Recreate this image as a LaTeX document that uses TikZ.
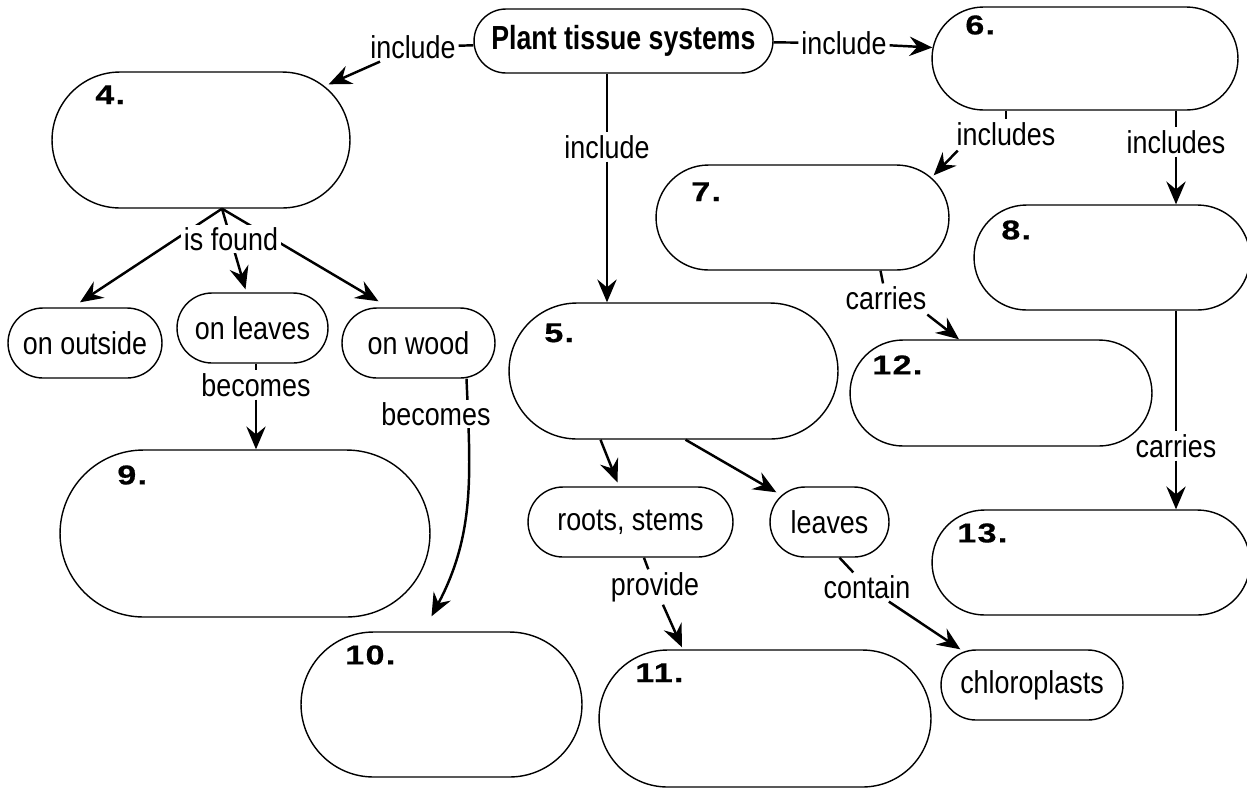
\documentclass[tikz,border=0pt]{standalone}
\usepackage{fontspec}
\setmainfont{Liberation Sans}[FakeStretch=0.85]
\newfontfamily\numfont{Liberation Sans}[FakeStretch=1.25,LetterSpace=5,FakeBold=0.6]
\newfontfamily\headfont{Liberation Sans}[FakeStretch=0.8]
\usetikzlibrary{arrows.meta}

\newcommand\answerbox[7]{%
    % #1: Name
    % #2, #3: Left and top edge
    % #4, #5: Right and bottom edge
    % #6, #7: Top left corner of the number
    \begingroup
    \pgfmathsetmacro{\boxw}{(#4-#2)/50}
    \pgfmathsetmacro{\boxh}{(#5-#3)/50}
    \pgfmathsetmacro{\boxr}{(#5-#3)/100}
    \node[pill, rounded corners=\boxr cm, minimum width=\boxw cm, minimum height=\boxh cm] (#1) at ({(#2+#4)/2},{(#3+#5)/2}) {};
    \node[num, anchor=north west] (#1num) at (#6,#7) {\labelnum.};
    \endgroup
}
\newcommand\textpill[6]{%
    % #1: Name
    % #2, #3: Left and top edge
    % #4, #5: Right and bottom edge
    % #6: Text
    \begingroup
    \pgfmathsetmacro{\boxw}{(#4-#2)/50}
    \pgfmathsetmacro{\boxh}{(#5-#3)/50}
    \pgfmathsetmacro{\boxr}{(#5-#3)/100}
    \node[pill, rounded corners=\boxr cm, minimum width=\boxw cm, minimum height=\boxh cm] (#1) at ({(#2+#4)/2},{(#3+#5)/2}) {#6};
    \endgroup
}

\begin{document}
\begin{tikzpicture}[x=0.02cm, y=-0.02cm,
        pill/.style={rectangle, draw, line width=0.8pt, inner sep=0pt,
            font=\fontsize{18}{18}\selectfont},
        num/.style={font=\numfont\bfseries\fontsize{15.5}{15.5}\selectfont, inner sep=0pt},
        lbl/.style={inner sep=1.5pt, font=\fontsize{18}{18}\selectfont},
        link/.style={line width=1.4pt},
        arr/.style={link, -{Stealth[length=13pt,width=11pt,inset=4.5pt]}},
    ]
    \useasboundingbox (0,0) rectangle (1247,789);

    % the concept boxes
    \textpill{plant}{474}{9}{773}{73}{\headfont\bfseries\fontsize{19}{19}\selectfont Plant tissue systems}
    \def\labelnum{4}\answerbox{b4}{52}{72}{350}{208}{95}{85}
    \def\labelnum{6}\answerbox{b6}{932}{7}{1238}{110}{965}{15}
    \def\labelnum{7}\answerbox{b7}{656}{165}{949}{270}{691}{182}
    \def\labelnum{8}\answerbox{b8}{974}{205}{1250}{310}{1001}{220}
    \def\labelnum{5}\answerbox{b5}{509}{303}{838}{439}{544}{323}
    \def\labelnum{12}\answerbox{b12}{850}{340}{1152}{446}{872}{355}
    \def\labelnum{9}\answerbox{b9}{60}{450}{430}{617}{117}{465}
    \def\labelnum{13}\answerbox{b13}{932}{510}{1250}{615}{957}{523}
    \def\labelnum{10}\answerbox{b10}{301}{632}{582}{777}{345}{645}
    \def\labelnum{11}\answerbox{b11}{599}{650}{931}{787}{635}{663}
    \textpill{outside}{8}{308}{162}{378}{on outside}
    \textpill{onleaves}{177}{293}{328}{363}{on leaves}
    \textpill{onwood}{342}{308}{495}{378}{on wood}
    \textpill{roots}{528}{487}{733}{557}{roots, stems}
    \textpill{leaves}{770}{487}{889}{557}{leaves}
    \textpill{chloro}{941}{650}{1123}{720}{chloroplasts}

    % linking words
    \node[lbl] (inclL) at (413,47) {include};
    \node[lbl] (inclR) at (844,43) {include};
    \node[lbl] (inclV) at (607,147) {include};
    \node[lbl] (incl1) at (1006,134) {includes};
    \node[lbl] (incl2) at (1176,142) {includes};
    \node[lbl] (carr1) at (886,298) {carries};
    \node[lbl] (carr2) at (1176,446) {carries};
    \node[lbl] (bec1) at (256,385) {becomes};
    \node[lbl] (prov) at (655,587) {provide};
    \node[lbl] (cont) at (867,587) {contain};

    % connectors
    \draw[link] (plant) -- (inclL);
    \draw[arr] (inclL) -- ([shift={(-22,13)}]b4.north east);
    \draw[link] (plant) -- (inclR);
    \draw[arr] (inclR) -- ([shift={(1,-11)}]b6.west);
    \draw[link] (plant.south -| inclV) -- (inclV);
    \draw[arr] (inclV) -- (inclV |- b5.north);
    \draw[link] (b6.south -| incl1) -- (incl1);
    \draw[arr] ([shift={(4,2)}]incl1.south west) -- ([shift={(-16,11)}]b7.north east);
    \draw[link] (b6.south -| incl2) -- (incl2);
    \draw[arr] (incl2) -- (incl2 |- b8.north);
    \draw[link] ([shift={(78,0)}]b7.south) -- (carr1);
    \draw[arr] ([shift={(-2,2)}]carr1.south east) -- ([shift={(-42,0)}]b12.north);
    \draw[link] (b8.south -| carr2) -- (carr2);
    \draw[arr] (carr2) -- (carr2 |- b13.north);
    \draw[arr] ([shift={(21,0)}]b4.south) -- ([shift={(-5,-5)}]outside.north);
    \draw[arr] ([shift={(21,0)}]b4.south) -- ([shift={(-7,-3)}]onleaves.north);
    \draw[arr] ([shift={(21,0)}]b4.south) -- ([shift={(-40,-6)}]onwood.north);
    \draw[link] (onleaves.south -| bec1) -- (bec1);
    \draw[arr] (bec1) -- (bec1 |- b9.north);
    \draw[arr] ([shift={(48,0)}]onwood.south) .. controls +(4,94) and +(44,-83) .. ([shift={(-10,-15)}]b10.north);
    \draw[arr] ([shift={(-73,0)}]b5.south) -- ([shift={(-13,-4)}]roots.north);
    \draw[arr] ([shift={(12,0)}]b5.south) -- ([shift={(7,6)}]leaves.north west);
    \draw[link] (roots) -- (prov);
    \draw[arr] (prov) -- ([shift={(-83,-2)}]b11.north);
    \draw[link] ([shift={(10,0)}]leaves.south) -- (cont);
    \draw[arr] (cont) -- ([shift={(20,0)}]chloro.north west);

    % labels lying over their lines
    \node[lbl, fill=white] (isfound) at (231,239) {is found};
    \node[lbl, fill=white] (bec2) at (436,414) {becomes};
\end{tikzpicture}
\end{document}
